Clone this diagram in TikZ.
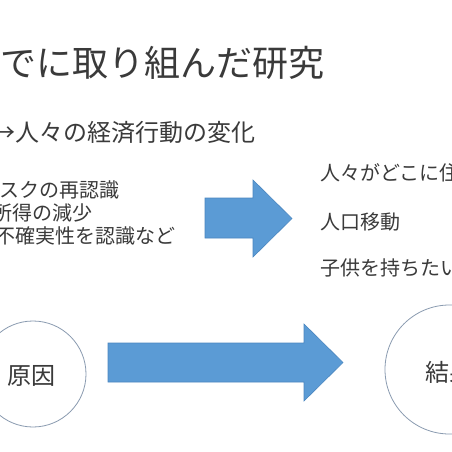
\documentclass[tikz,border=0pt]{standalone}
\usepackage{fontspec}
\newfontfamily\jp{Noto Sans CJK JP}
\definecolor{arrowblue}{HTML}{5B9BD5}
\definecolor{arrowedge}{HTML}{4A86C0}
\definecolor{circedge}{HTML}{8A9BB0}
\definecolor{txt}{HTML}{3A3A3A}
\begin{document}
\begin{tikzpicture}[x=1pt,y=-1pt,
  txtnode/.style={inner sep=0pt,anchor=west,text=txt,font=\jp\fontsize{20}{24}\selectfont},
  bigarrow/.style={fill=arrowblue,draw=arrowedge,line width=0.6pt,line join=miter},
  ring/.style={circle,draw=circedge,line width=0.8pt,fill=white,inner sep=0pt}]
\useasboundingbox (0,0) rectangle (452,452);
\clip (0,0) rectangle (452,452);
\fill[white] (0,0) rectangle (452,452);
% title
\node[txtnode,font=\jp\fontsize{36}{40}\selectfont] (title) at (0,63) {でに取り組んだ研究};
\node[txtnode,font=\jp\fontsize{24}{28}\selectfont] (sub) at (-9,132) {→人々の経済行動の変化};
% left list
\node[txtnode] (l1) at (-1,190) {スクの再認識};
\node[txtnode] (l2) at (-8,213) {所得の減少};
\node[txtnode] (l3) at (-5,236) {不確実性を認識など};
% right list
\node[txtnode] (r1) at (320,173) {人々がどこに住};
\node[txtnode] (r2) at (320,222) {人口移動};
\node[txtnode] (r3) at (320,268) {子供を持ちたい};
% upper arrow
\draw[bigarrow] (205,198) -- (253,198) -- (253,180) -- (292,218.5) -- (253,257) -- (253,238) -- (205,238) -- cycle;
% lower arrow
\draw[bigarrow] (108,343) -- (304,343) -- (304,324) -- (343,362.5) -- (304,401) -- (304,382) -- (108,382) -- cycle;
% circles
\node[ring,minimum size=106pt] (cause) at (33,374) {};
\node[txtnode,anchor=center,font=\jp\fontsize{24}{28}\selectfont] (causet) at (31,376) {原因};
\node[ring,minimum size=129pt] (effect) at (449.5,369.5) {};
\node[txtnode,anchor=center,font=\jp\fontsize{24}{28}\selectfont] (effectt) at (449.5,372) {結果};
\end{tikzpicture}
\end{document}
